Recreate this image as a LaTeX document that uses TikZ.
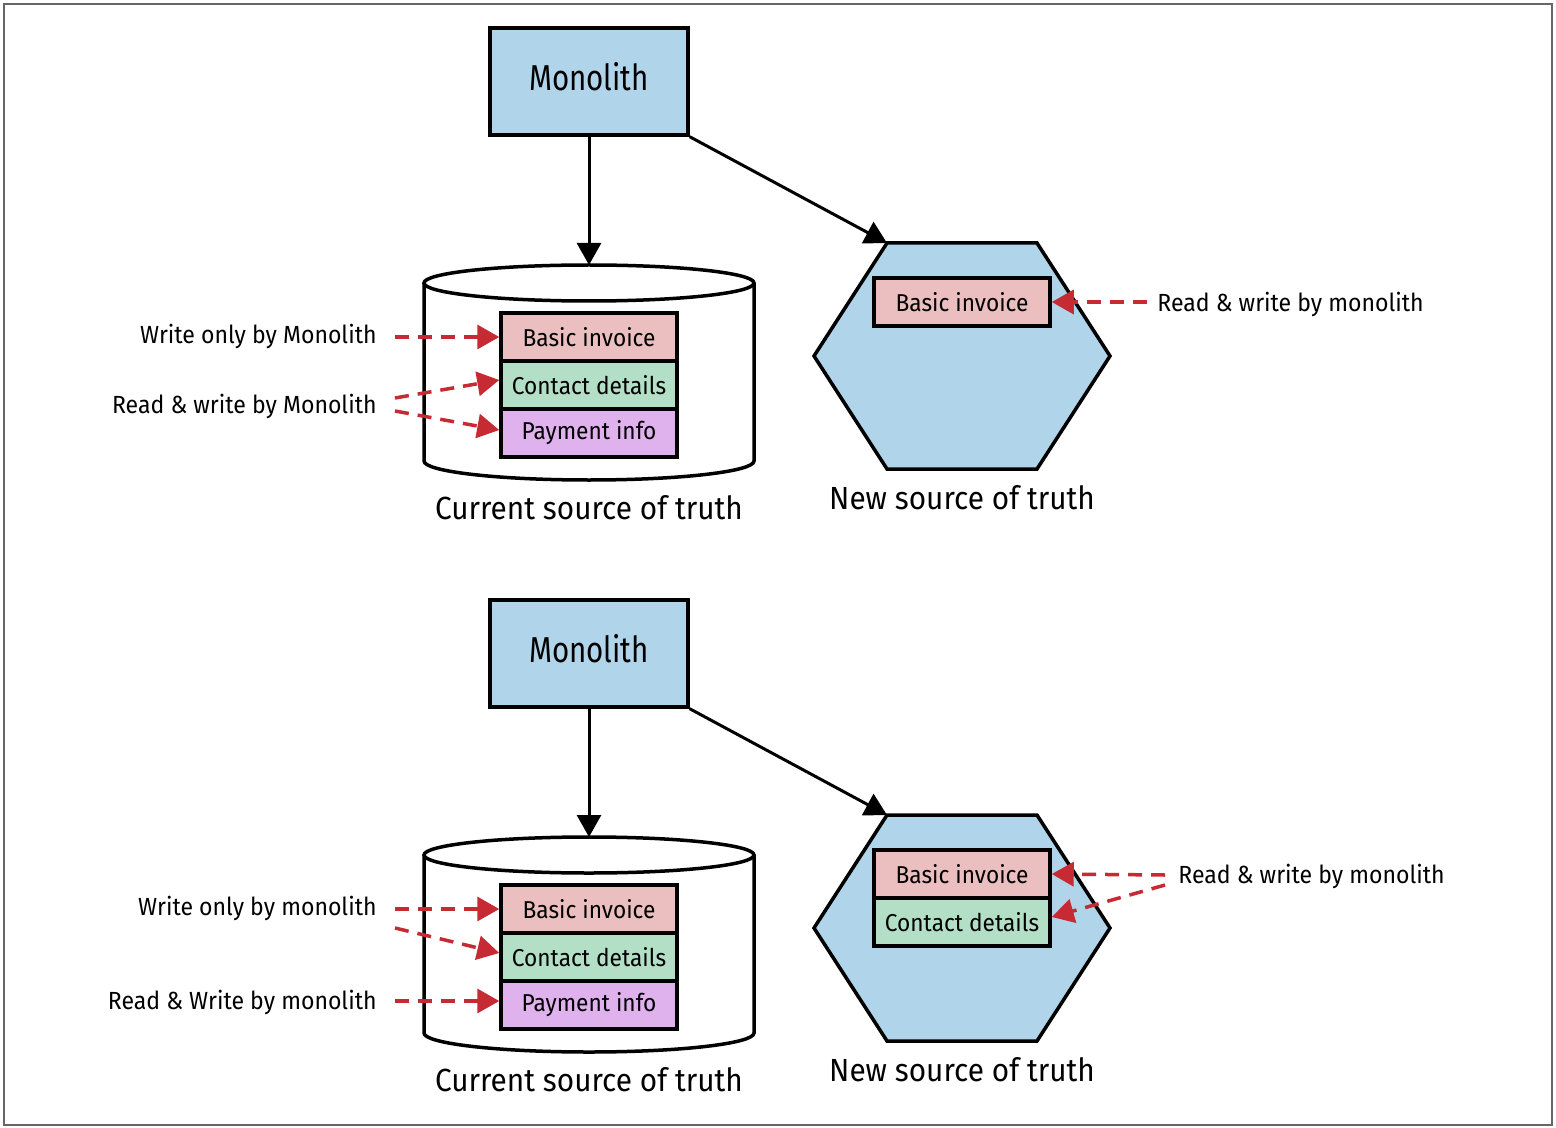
\documentclass[tikz,border=0pt]{standalone}
\usepackage{fontspec}
\setmainfont[FakeStretch=0.93]{Fira Sans}
\newfontfamily\mnlfont[FakeStretch=0.82]{Fira Sans}
\usetikzlibrary{arrows.meta}
\definecolor{monoblue}{HTML}{B0D4EA}
\definecolor{rowpink}{HTML}{EBBFC0}
\definecolor{rowgreen}{HTML}{B3DFC6}
\definecolor{rowpurple}{HTML}{DFB2EE}
\definecolor{myred}{HTML}{C62A32}
\definecolor{framegray}{HTML}{666666}
\tikzset{
  mono/.style={draw, line width=1.75pt, fill=monoblue, minimum width=99pt, minimum height=53.5pt, inner sep=0pt, font=\mnlfont\fontsize{18}{20}\selectfont, text depth=5pt},
  row/.style={draw, line width=1.75pt, minimum width=88pt, minimum height=24pt, inner sep=0pt, font=\fontsize{12.2}{14}\selectfont},
  lab/.style={font=\fontsize{12.4}{14}\selectfont, inner sep=0pt},
  capt/.style={font=\fontsize{16}{18}\selectfont, inner sep=0pt},
  solidarrow/.style={line width=1.5pt, -{Triangle[length=11pt,width=12pt]}},
  rwarrow/.style={draw=myred, line width=1.75pt, dash pattern=on 7pt off 4.5pt, -{Triangle[length=11pt,width=12pt,fill=myred]}},
  shapeline/.style={line width=1.75pt, line join=miter},
}
\begin{document}
\begin{tikzpicture}[x=0.5pt, y=-0.5pt]
\useasboundingbox (0,0) rectangle (1556,1128);
\draw[framegray, line width=0.75pt] (4,4) rectangle (1552,1125);

% ================= TOP =================
\node[mono] (monoA) at (589,81.5) {Monolith};
% cylinder
\draw[shapeline, fill=white] (424,283) -- (424,461) arc[start angle=180, end angle=360, x radius=165, y radius=-19] -- (754,283);
\draw[shapeline, fill=white] (589,283) ellipse[x radius=165, y radius=18];
\coordinate (cylAtop) at (589,265);
% hexagon
\coordinate (hexAtl) at (887,243);
\coordinate (hexAtr) at (1037,243);
\coordinate (hexAr) at (1110,356);
\coordinate (hexAbr) at (1037,469);
\coordinate (hexAbl) at (887,469);
\coordinate (hexAl) at (814,356);
\draw[shapeline, fill=monoblue] (hexAtl) -- (hexAtr) -- (hexAr) -- (hexAbr) -- (hexAbl) -- (hexAl) -- cycle;
% rows
\node[row, fill=rowpink] (biA) at (589,337) {Basic invoice};
\node[row, fill=rowgreen] (cdA) at (589,385) {Contact details};
\node[row, fill=rowpurple] (piA) at (589,433) {Payment info};
\node[row, fill=rowpink] (nbiA) at (962,302) {Basic invoice};
% arrows
\draw[solidarrow] (monoA.south) -- (cylAtop);
\draw[solidarrow] (monoA.south east) -- (hexAtl);
% captions
\node[capt, anchor=base] (curA) at (589,519) {Current source of truth};
\node[capt, anchor=base] (newA) at (962,509) {New source of truth};
% labels
\node[lab, anchor=base east] (woA) at (377,343.5) {Write only by Monolith};
\node[lab, anchor=base east] (rwA) at (377,413.5) {Read \& write by Monolith};
\node[lab, anchor=base west] (rwnA) at (1157,311.5) {Read \& write by monolith};
\coordinate (sA1) at (395,337);
\coordinate (sA2) at (395,398);
\coordinate (sA3) at (395,411);
\coordinate (sA4) at (1147,302);
\draw[rwarrow] (sA1) -- (biA.west);
\draw[rwarrow] (sA2) -- ([yshift=2.5pt]cdA.west);
\draw[rwarrow] (sA3) -- ([yshift=1.5pt]piA.west);
\draw[rwarrow] (sA4) -- (nbiA.east);

% ================= BOTTOM =================
\node[mono] (monoB) at (589,653.5) {Monolith};
\draw[shapeline, fill=white] (424,855) -- (424,1033) arc[start angle=180, end angle=360, x radius=165, y radius=-19] -- (754,855);
\draw[shapeline, fill=white] (589,855) ellipse[x radius=165, y radius=18];
\coordinate (cylBtop) at (589,837);
\coordinate (hexBtl) at (887,815);
\coordinate (hexBtr) at (1037,815);
\coordinate (hexBr) at (1110,928);
\coordinate (hexBbr) at (1037,1041);
\coordinate (hexBbl) at (887,1041);
\coordinate (hexBl) at (814,928);
\draw[shapeline, fill=monoblue] (hexBtl) -- (hexBtr) -- (hexBr) -- (hexBbr) -- (hexBbl) -- (hexBl) -- cycle;
\node[row, fill=rowpink] (biB) at (589,909) {Basic invoice};
\node[row, fill=rowgreen] (cdB) at (589,957) {Contact details};
\node[row, fill=rowpurple] (piB) at (589,1005) {Payment info};
\node[row, fill=rowpink] (nbiB) at (962,874) {Basic invoice};
\node[row, fill=rowgreen] (ncdB) at (962,922) {Contact details};
\draw[solidarrow] (monoB.south) -- (cylBtop);
\draw[solidarrow] (monoB.south east) -- (hexBtl);
\node[capt, anchor=base] (curB) at (589,1091) {Current source of truth};
\node[capt, anchor=base] (newB) at (962,1081) {New source of truth};
\node[lab, anchor=base east] (woB) at (377,915.5) {Write only by monolith};
\node[lab, anchor=base east] (rwB) at (377,1009.5) {Read \& Write by monolith};
\node[lab, anchor=base west] (rwnB) at (1178,883.5) {Read \& write by monolith};
\coordinate (sB1) at (395,909);
\coordinate (sB2) at (395,928);
\coordinate (sB3) at (395,1001);
\coordinate (sB4) at (1165,875);
\coordinate (sB5) at (1165,885);
\draw[rwarrow] (sB1) -- (biB.west);
\draw[rwarrow] (sB2) -- ([yshift=2pt]cdB.west);
\draw[rwarrow] (sB3) -- ([yshift=2pt]piB.west);
\draw[rwarrow] (sB4) -- (nbiB.east);
\draw[rwarrow] (sB5) -- ([yshift=2.5pt]ncdB.east);
\end{tikzpicture}
\end{document}
